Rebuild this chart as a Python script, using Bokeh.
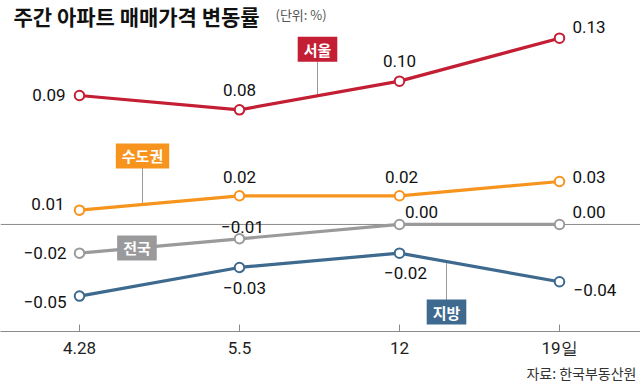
from bokeh.plotting import figure
from bokeh.models import Range1d, FixedTicker, LinearAxis, Span, Label, ColumnDataSource, Title
from bokeh.core.properties import value
from bokeh.embed import file_html
from bokeh.resources import INLINE

# ---------------- data ----------------
title_text = "주간 아파트 매매가격 변동률"
unit_text = "(단위: %)"
source_text = "자료: 한국부동산원"
dates = ["4.28", "5.5", "12", "19일"]
series_names = ["서울", "수도권", "전국", "지방"]
seoul = [0.09, 0.08, 0.10, 0.13]
capital = [0.01, 0.02, 0.02, 0.03]
national = [-0.02, -0.01, 0.00, 0.00]
regional = [-0.05, -0.03, -0.02, -0.04]

# ---------------- styles / layout ----------------
colors = ["#C41E34", "#F7941D", "#9A9A9C", "#3D6A8E"]
all_series = [seoul, capital, national, regional]

W, H = 640, 382
FRAME_H = 334
X0, X1 = -0.49375, 3.50625
Y0, Y1 = -0.07469, 0.15629
PX_X = W / (X1 - X0)
PX_Y = FRAME_H / (Y1 - Y0)

def ddx(px):
    return px / PX_X

def ddy(px):  # screen px (down positive) -> data delta
    return -px / PX_Y

def page_x(px):
    return X0 + px / PX_X

def page_y(py):
    return Y1 - py / PX_Y

# value-label placement per series: (align, dx px, dy px)
label_layout = [
    [("right", -14, 0), ("center", 0, -20), ("center", 0, -20), ("left", 13, -11)],
    [("right", -15, -6), ("center", 0, -19), ("center", 2, -19), ("left", 13, -5)],
    [("right", -13, 0), ("center", 3, -12), ("center", 22, -13), ("left", 13, -13)],
    [("right", -13, 6), ("center", 5, 21), ("center", 6, 20), ("left", 14, 8)],
]
# name boxes: (position along x in index units, box centre dy px, leader length px)
box_layout = [
    (1.4875, -47, -36),
    (0.39375, -49, -38),
    (0.359, 0, 0),
    (2.29375, 51, 40),
]

p = figure(width=W, height=H, x_range=Range1d(X0, X1), y_range=Range1d(Y0, Y1),
           x_axis_location=None, y_axis_location=None, title=None,
           toolbar_location=None, tools="", output_backend="svg",
           min_border=0, min_border_bottom=H - FRAME_H, outline_line_color=None,
           background_fill_color="white", border_fill_color="white")
p.grid.grid_line_color = None
p.grid.visible = False

xaxis = LinearAxis(
    ticker=FixedTicker(ticks=list(range(len(dates)))),
    major_label_overrides={i: d for i, d in enumerate(dates)},
    major_tick_in=7, major_tick_out=0, minor_tick_line_color=None,
    axis_line_color="#8a8a8a", major_tick_line_color="#8a8a8a",
    major_label_text_font="Roboto", major_label_text_font_size="17px",
    major_label_text_color="#222222", major_label_standoff=6,
)
p.add_layout(xaxis, "below")
p.add_layout(Title(text=source_text, align="right", text_font="Noto Sans CJK KR",
                   text_font_size="14px", text_font_style="normal", text_color="#333333",
                   standoff=0, offset=4), "below")

p.add_layout(Span(location=0, dimension="width", line_color="#8a8a8a", line_width=1, level="underlay"))

xs = list(range(len(dates)))

def interp(vals, xi):
    i = int(xi)
    f = xi - i
    return vals[i] * (1 - f) + vals[i + 1] * f

# leaders
for vals, c, (xi, bdy, lead) in zip(all_series, colors, box_layout):
    if lead != 0:
        v = interp(vals, xi)
        p.segment(x0=[xi], y0=[v], x1=[xi], y1=[v + ddy(lead)], line_color="#9a9a9a", line_width=1)

# lines + markers
for vals, c in zip(all_series, colors):
    p.line(xs, vals, line_color=c, line_width=3.2)
    p.scatter(xs, vals, marker="circle", size=9.5, fill_color="white", line_color=c, line_width=2)

# value labels
groups = {"left": dict(x=[], y=[], text=[]), "right": dict(x=[], y=[], text=[]), "center": dict(x=[], y=[], text=[])}
for vals, lay in zip(all_series, label_layout):
    for i, (v, (al, dx, dy)) in enumerate(zip(vals, lay)):
        g = groups[al]
        g["x"].append(i + ddx(dx))
        g["y"].append(v + ddy(dy))
        g["text"].append(f"{v:.2f}".replace("-", "\u2212"))
for al, g in groups.items():
    p.text(x="x", y="y", text="text", source=ColumnDataSource(g), text_align=al,
           text_baseline="middle", text_font=value("Roboto"), text_font_size="17px",
           text_color="#111111")

# name boxes
for name, vals, c, (xi, bdy, lead) in zip(series_names, all_series, colors, box_layout):
    v = interp(vals, xi)
    p.add_layout(Label(x=xi, y=v + ddy(bdy), text=name, text_align="center", text_baseline="middle",
                       text_color="white", text_font="Noto Sans CJK KR", text_font_style="bold",
                       text_font_size="15px", background_fill_color=c, padding=dict(x=6, y=2)))

# title, unit
p.add_layout(Label(x=page_x(13), y=page_y(1), text=title_text, text_align="left", text_baseline="top",
                   text_font="Noto Sans CJK KR", text_font_style="bold", text_font_size="21px",
                   text_color="#111111"))
p.add_layout(Label(x=page_x(275), y=page_y(14), text=unit_text, text_align="left", text_baseline="middle",
                   text_font="Noto Sans CJK KR", text_font_size="13px", text_color="#555555"))

open("out.html", "w").write(file_html(p, INLINE))
